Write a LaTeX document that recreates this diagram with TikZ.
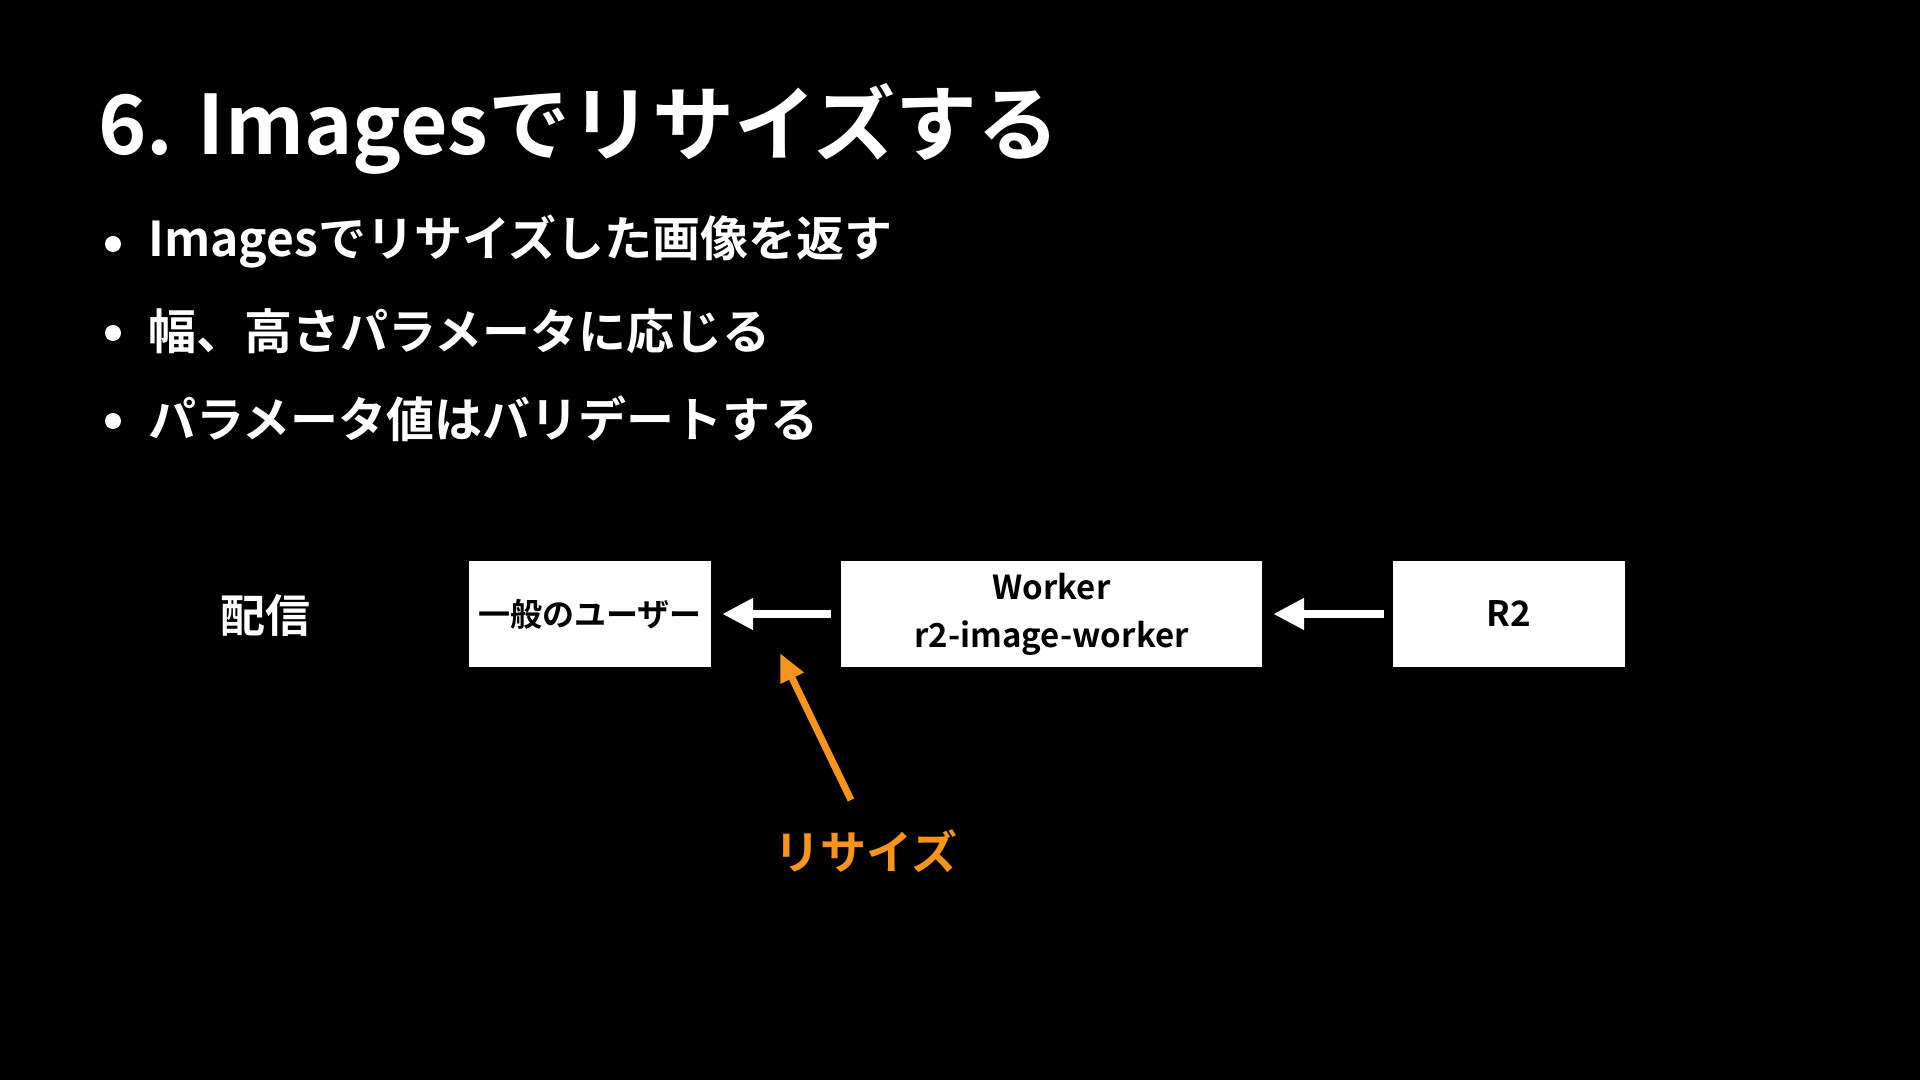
\documentclass[tikz,border=0pt]{standalone}
\usepackage{fontspec}
\setmainfont{Noto Sans CJK JP}[UprightFont=* Bold]
\usetikzlibrary{arrows.meta}
\definecolor{resizeorange}{RGB}{247,148,29}

\begin{document}
\begin{tikzpicture}[x=1pt,y=1pt,
    box/.style={fill=white,text=black,inner sep=0pt,minimum height=106pt},
    flow/.style={draw=white,line width=8pt,-{Triangle[length=31pt,width=30pt]}}]
    % Background
    \fill[black] (0,0) rectangle (1920,1080);
    % Title
    \node[anchor=base west,text=white,inner sep=0pt,font=\fontsize{82}{96}\selectfont] (title) at (98,925) {6. Imagesでリサイズする};
    % Bullets
    \foreach \y/\txt [count=\i] in {838/Imagesでリサイズした画像を返す, 749/幅、高さパラメータに応じる, 661/パラメータ値はバリデートする} {
        \fill[white] (113,\y-2) circle (8);
        \node[anchor=west,text=white,inner sep=0pt,font=\fontsize{48}{52}\selectfont] (item\i) at (148,\y) {\txt};
    }
    % Delivery flow
    \node[text=white,font=\fontsize{45}{50}\selectfont] (delivery) at (265,465) {配信};
    \node[box,minimum width=242pt,font=\fontsize{32}{36}\selectfont] (user) at (590,466) {一般のユーザー};
    \node[box,minimum width=421pt,align=center,font=\fontsize{33}{48}\selectfont] (worker) at (1051.5,466) {Worker\\r2-image-worker};
    \node[box,minimum width=232pt,font=\fontsize{35}{40}\selectfont] (rtwo) at (1509,466) {R2};
    \draw[flow,shorten <=10pt,shorten >=11pt] (worker) -- (user);
    \draw[flow,shorten <=9pt,shorten >=11pt] (rtwo) -- (worker);
    % Resize note
    \node[text=resizeorange,font=\fontsize{46}{50}\selectfont] (resize) at (866,229) {リサイズ};
    \coordinate (resizetail) at (851,280);
    \coordinate (resizetip) at (780,427);
    \draw[draw=resizeorange,line width=7pt,-{Triangle[length=28pt,width=24pt]}] (resizetail) -- (resizetip);
\end{tikzpicture}
\end{document}
